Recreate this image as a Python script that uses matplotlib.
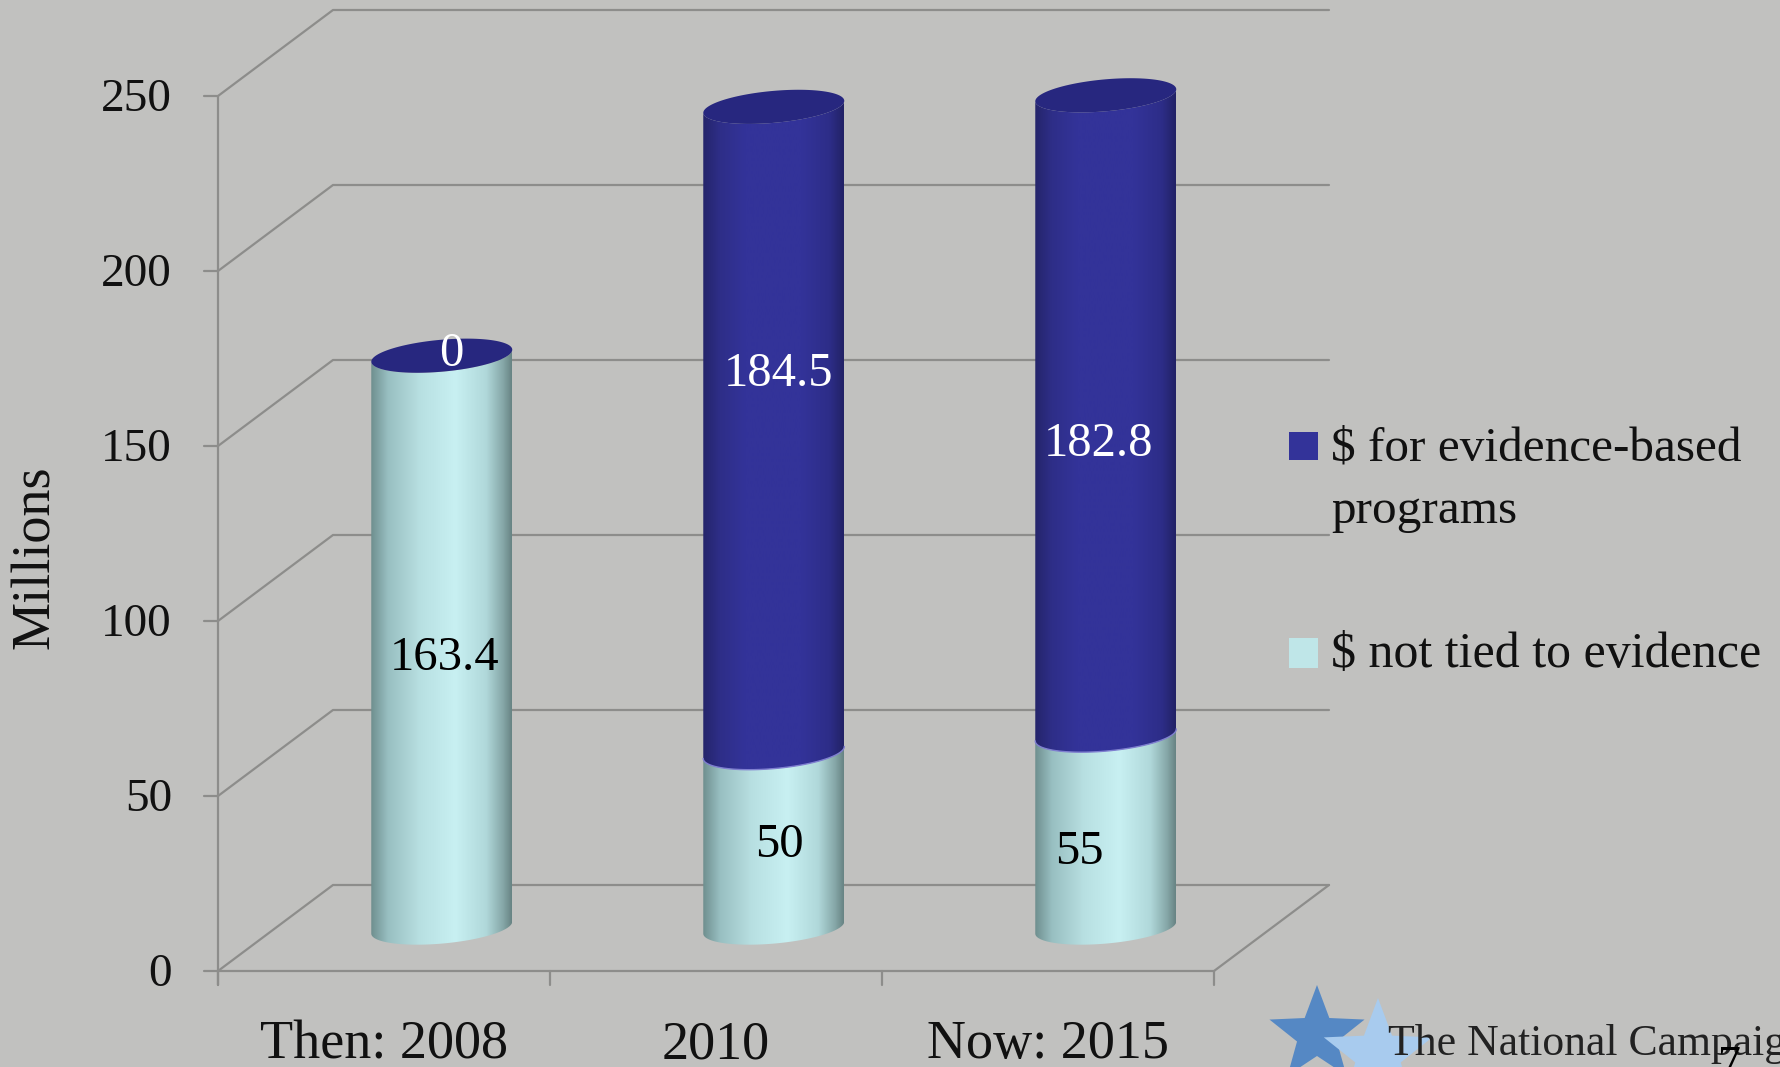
import numpy as np
import matplotlib
matplotlib.use("Agg")
import matplotlib.pyplot as plt
from matplotlib.colors import LinearSegmentedColormap
from matplotlib.patches import PathPatch, Polygon, Rectangle
from matplotlib.path import Path

categories = ["Then: 2008", "2010", "Now: 2015"]
not_tied = [163.4, 50, 55]
evidence = [0, 184.5, 182.8]
not_tied_labels = ["163.4", "50", "55"]
evidence_labels = ["0", "184.5", "182.8"]
y_ticks = [0, 50, 100, 150, 200, 250]
legend_labels = ["$ for evidence-based\nprograms", "$ not tied to evidence"]

W, H = 1781, 1067
BG = "#c1c1bf"
GRID = "#8d8d8b"
NAVY_TOP = "#27277f"
TEAL_LEGEND = "#bfe6e8"
NAVY_LEGEND = "#333399"

# front plane of the fake 3d box, in pixels
X0_PX = 218
CAT_PX = 332
Y0_PX = 971
UNIT_PX = 3.5
BACK_X = 115 / CAT_PX
BACK_Y = 86 / UNIT_PX

# cylinder shape, data units
CYL_X = 0.174
CYL_Y = 12.4
CYL_A = 70.5 / CAT_PX
CYL_B = 16.0 / UNIT_PX
CYL_S = 6.0 / UNIT_PX

teal_cmap = LinearSegmentedColormap.from_list("teal", [
    (0.0, "#6f8f8f"), (0.12, "#98bfc1"), (0.35, "#b8e0e2"), (0.6, "#c8f0f2"),
    (0.82, "#b0d8da"), (0.94, "#85a6a7"), (1.0, "#688484"),
])
navy_cmap = LinearSegmentedColormap.from_list("navy", [
    (0.0, "#25256b"), (0.12, "#2e2e88"), (0.3, "#333399"),
    (0.7, "#333399"), (0.9, "#2d2d88"), (1.0, "#222266"),
])


def px(x, y):
    # pixel position to data position
    return (x - X0_PX) / CAT_PX, (Y0_PX - y) / UNIT_PX


def front_edge(cx, cy, reverse=False):
    t = np.linspace(np.pi, 2 * np.pi, 60)
    if reverse:
        t = t[::-1]
    return cx + CYL_A * np.cos(t), cy + CYL_B * np.sin(t) + CYL_S * np.cos(t)


def draw_segment(ax, cx, y_low, y_high, cmap, z):
    xl, yl = front_edge(cx, y_low)
    xh, yh = front_edge(cx, y_high, reverse=True)
    pts = np.column_stack([np.r_[xl, xh], np.r_[yl, yh]])
    path = Path(np.vstack([pts, pts[0]]), closed=True)
    grad = np.linspace(0, 1, 256).reshape(1, -1)
    im = ax.imshow(
        grad, cmap=cmap, aspect="auto", zorder=z, interpolation="bilinear",
        extent=[cx - CYL_A, cx + CYL_A, y_low - 20, y_high + 20],
    )
    clip = PathPatch(path, transform=ax.transData, facecolor="none", edgecolor="none")
    ax.add_patch(clip)
    im.set_clip_path(clip)


def draw_cap(ax, cx, cy, z):
    t = np.linspace(0, 2 * np.pi, 120)
    pts = np.column_stack([cx + CYL_A * np.cos(t), cy + CYL_B * np.sin(t) + CYL_S * np.cos(t)])
    ax.add_patch(Polygon(pts, closed=True, facecolor=NAVY_TOP, edgecolor="none", zorder=z))


def star(cx, cy, r, color, z):
    # logo star, given in pixels
    ang = np.pi / 2 + np.arange(10) * np.pi / 5
    rad = np.where(np.arange(10) % 2 == 0, r, r * 0.42)
    pts = [px(cx + q * np.cos(a), cy - q * np.sin(a)) for q, a in zip(rad, ang)]
    return Polygon(pts, closed=True, facecolor=color, edgecolor="none", zorder=z)


def main():
    plt.rcParams["font.family"] = ["Liberation Serif", "DejaVu Serif"]
    fig = plt.figure(figsize=(W / 100, H / 100), dpi=100, facecolor=BG)
    ax = fig.add_axes([0, 0, 1, 1])
    ax.set_axis_off()

    # box lines
    line = dict(color=GRID, linewidth=1.6, zorder=1, solid_capstyle="round")
    n_cat = len(categories)
    for v in y_ticks:
        ax.plot([-14 / CAT_PX, 0, BACK_X, n_cat + BACK_X], [v, v, v + BACK_Y, v + BACK_Y], **line)
    ax.plot([0, 0], [-14 / UNIT_PX, y_ticks[-1]], **line)
    ax.plot([0, n_cat, n_cat + BACK_X], [0, 0, BACK_Y], **line)
    for i in range(n_cat + 1):
        ax.plot([i, i], [0, -14 / UNIT_PX], **line)

    # cylinders
    for i in range(n_cat):
        cx = i + 0.5 + CYL_X
        mid = CYL_Y + not_tied[i]
        top = mid + evidence[i]
        draw_segment(ax, cx, CYL_Y, mid, teal_cmap, 3)
        if evidence[i] > 0:
            draw_segment(ax, cx, mid, top, navy_cmap, 4)
            xs, ys = front_edge(cx, mid)
            ax.plot(xs, ys, color="#7f7fd0", linewidth=1.0, zorder=5)
        draw_cap(ax, cx, top, 6)

    # value labels sit where the slide had them
    teal_label_px = [(445, 658), (779, 845), (1079, 852)]
    navy_label_px = [(451, 354), (779, 374), (1099, 444)]
    for s, (x, y) in zip(not_tied_labels, teal_label_px):
        ax.text(*px(x, y), s, fontsize=35, color="black", ha="center", va="center", zorder=8)
    for s, (x, y) in zip(evidence_labels, navy_label_px):
        ax.text(*px(x, y), s, fontsize=35, color="white", ha="center", va="center", zorder=8)

    # tick labels
    for v in y_ticks:
        ax.text(*px(172, Y0_PX + 4 - v * UNIT_PX), str(v), fontsize=34, color="#111111",
                ha="right", va="center")
    for i, name in enumerate(categories):
        ax.text(i + 0.5, px(0, 1045)[1], name, fontsize=39, color="#111111",
                ha="center", va="center")
    ax.text(*px(36, 557), "Millions", fontsize=39, color="#111111", rotation=90,
            ha="center", va="center")

    # legend
    x0, y0 = px(1289, 460)
    ax.add_patch(Rectangle((x0, y0), 29 / CAT_PX, 28 / UNIT_PX, facecolor=NAVY_LEGEND, edgecolor="none"))
    x0, y0 = px(1289, 668)
    ax.add_patch(Rectangle((x0, y0), 29 / CAT_PX, 30 / UNIT_PX, facecolor=TEAL_LEGEND, edgecolor="none"))
    ax.text(*px(1331, 448), legend_labels[0].split("\n")[0], fontsize=35.5, color="#111111", va="center")
    ax.text(*px(1331, 511), legend_labels[0].split("\n")[1], fontsize=35.5, color="#111111", va="center")
    ax.text(*px(1331, 655), legend_labels[1], fontsize=36, color="#111111", va="center")

    # footer logo, runs off the slide
    ax.add_patch(star(1317, 1035, 50, "#5588c4", 2))
    ax.add_patch(star(1378, 1055, 57, "#a8cbee", 3))
    ax.text(*px(1388, 1055), "The National Campaign", fontsize=31.5, color="#222222",
            va="baseline", ha="left", zorder=4)
    ax.text(*px(1718, 1078), "7", fontsize=33, color="black", va="baseline", ha="left", zorder=5)

    ax.set_xlim(-X0_PX / CAT_PX, (W - X0_PX) / CAT_PX)
    ax.set_ylim((Y0_PX - H) / UNIT_PX, Y0_PX / UNIT_PX)

    fig.savefig("out.png", dpi=100, facecolor=BG)
    plt.close(fig)


if __name__ == "__main__":
    main()
